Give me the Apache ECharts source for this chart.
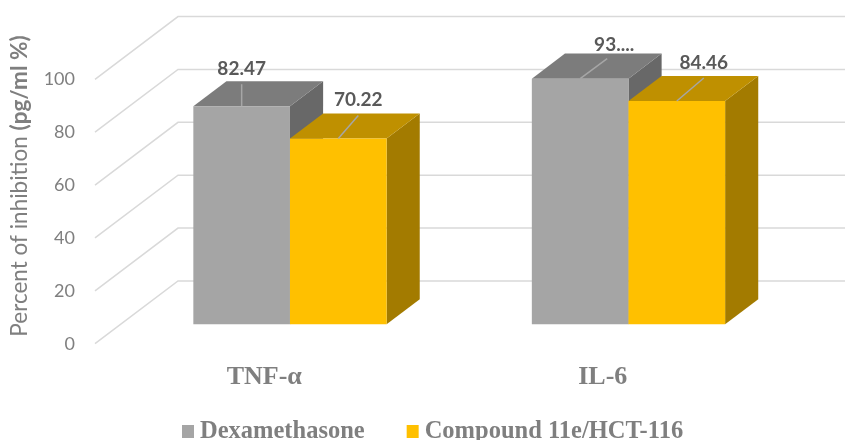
<!DOCTYPE html>
<html>
<head>
<meta charset="utf-8">
<title>Percent of inhibition</title>
<script src="https://cdn.jsdelivr.net/npm/echarts@6/dist/echarts.min.js"></script>
<style>
  html, body { margin: 0; padding: 0; background: #fff; }
  #main { width: 845px; height: 440px; }
</style>
</head>
<body>
<div id="main"></div>
<script>
var categories = ['TNF-α', 'IL-6'];
var dexamethasone = [82.47, 92.9];
var compound = [70.22, 84.46];
var dexLabels = ['82.47', '93....'];
var compoundLabels = ['70.22', '84.46'];
var tickValues = [0, 20, 40, 60, 80, 100];
var seriesNames = ['Dexamethasone', 'Compound 11e/HCT-116'];

// fake 3d: one full step back into the chart moves a point by this much
var DEPTH_X = 83;
var DEPTH_Y = -62.7;
var BAR_NEAR = 0.31;
var BAR_FAR = 0.709;
var BAR_RATIO = 0.2855;

// data label + leader line offsets from the middle of each bar's front top edge
var dexOffsets = [
  { label: [0, -37], line: [0, -22] },
  { label: [34, -34], line: [27, -20] }
];
var compoundOffsets = [
  { label: [20, -39], line: [20, -23] },
  { label: [27, -38], line: [27, -23] }
];

var dexColors = { front: '#a5a5a5', top: '#7c7c7c', side: '#686868' };
var compoundColors = { front: '#ffc000', top: '#bf9000', side: '#a37b00' };

function renderWall(params, api) {
  var v = api.value(0);
  var band = api.size([1, 0])[0];
  var p = api.coord([0, v]);
  var x0 = p[0] - band / 2;
  return {
    type: 'polyline',
    shape: {
      points: [
        [x0, p[1]],
        [x0 + DEPTH_X, p[1] + DEPTH_Y],
        [x0 + DEPTH_X + band * 2, p[1] + DEPTH_Y]
      ]
    },
    style: { stroke: '#d9d9d9', lineWidth: 1.5, fill: null }
  };
}

function makeBarRenderer(side, colors, labels, offsets) {
  return function (params, api) {
    var idx = api.value(0);
    var band = api.size([1, 0])[0];
    var w = band * BAR_RATIO;
    var top = api.coord([idx, api.value(1)]);
    var base = api.coord([idx, 0]);
    var left = top[0] + (side < 0 ? -w : 0) + DEPTH_X * BAR_NEAR;
    var right = left + w;
    var yTop = top[1] + DEPTH_Y * BAR_NEAR;
    var yBase = base[1] + DEPTH_Y * BAR_NEAR;
    var dx = DEPTH_X * (BAR_FAR - BAR_NEAR);
    var dy = DEPTH_Y * (BAR_FAR - BAR_NEAR);
    var mid = (left + right) / 2;
    var off = offsets[idx];
    return {
      type: 'group',
      children: [
        {
          type: 'polygon',
          shape: { points: [[right, yTop], [right + dx, yTop + dy], [right + dx, yBase + dy], [right, yBase]] },
          style: { fill: colors.side }
        },
        {
          type: 'polygon',
          shape: { points: [[left, yTop], [left + dx, yTop + dy], [right + dx, yTop + dy], [right, yTop]] },
          style: { fill: colors.top }
        },
        {
          type: 'rect',
          shape: { x: left, y: yTop, width: w, height: yBase - yTop },
          style: { fill: colors.front }
        },
        {
          type: 'line',
          shape: { x1: mid, y1: yTop, x2: mid + off.line[0], y2: yTop + off.line[1] },
          style: { stroke: '#a6a6a6', lineWidth: 1.5 }
        },
        {
          type: 'text',
          x: mid + off.label[0],
          y: yTop + off.label[1],
          style: {
            text: labels[idx],
            fill: '#595959',
            font: 'bold 19px Lato',
            align: 'center',
            verticalAlign: 'middle'
          }
        }
      ]
    };
  };
}

function toPairs(values) {
  return values.map(function (v, i) { return [i, v]; });
}

var chart = echarts.init(document.getElementById('main'));

chart.setOption({
  animation: false,
  backgroundColor: '#fff',
  grid: { left: 95, top: 79.3, width: 677, height: 264.4 },
  legend: {
    data: seriesNames,
    left: 177,
    top: 414,
    icon: 'rect',
    itemWidth: 12,
    itemHeight: 13,
    itemGap: 42,
    textStyle: {
      fontFamily: 'Liberation Serif',
      fontWeight: 'bold',
      fontSize: 24.5,
      color: '#7f7f7f',
      padding: [0, 0, 0, 1]
    }
  },
  xAxis: {
    type: 'category',
    data: categories,
    axisLine: { show: false },
    axisTick: { show: false },
    axisLabel: {
      margin: 21,
      fontFamily: 'Liberation Serif',
      fontWeight: 'bold',
      fontSize: 26,
      color: '#7f7f7f'
    }
  },
  yAxis: {
    type: 'value',
    min: 0,
    max: 100,
    interval: 20,
    axisLine: { show: false },
    axisTick: { show: false },
    splitLine: { show: false },
    axisLabel: {
      margin: 20,
      fontFamily: 'Lato',
      fontSize: 18,
      color: '#7f7f7f'
    }
  },
  graphic: [{
    type: 'text',
    x: 20,
    y: 186,
    rotation: Math.PI / 2,
    style: {
      text: 'Percent of inhibition {b|(pg/ml %)}',
      fill: '#7f7f7f',
      font: '22.5px Lato',
      align: 'center',
      verticalAlign: 'middle',
      rich: {
        b: { font: 'bold 22.5px Lato', fill: '#7f7f7f' }
      }
    }
  }],
  series: [
    {
      type: 'custom',
      name: 'wall',
      silent: true,
      z: 1,
      clip: false,
      data: tickValues.map(function (v) { return [v]; }),
      encode: { y: 0 },
      renderItem: renderWall
    },
    {
      type: 'custom',
      name: seriesNames[0],
      z: 2,
      clip: false,
      itemStyle: { color: dexColors.front },
      data: toPairs(dexamethasone),
      encode: { x: 0, y: 1 },
      renderItem: makeBarRenderer(-1, dexColors, dexLabels, dexOffsets)
    },
    {
      type: 'custom',
      name: seriesNames[1],
      z: 3,
      clip: false,
      itemStyle: { color: compoundColors.front },
      data: toPairs(compound),
      encode: { x: 0, y: 1 },
      renderItem: makeBarRenderer(1, compoundColors, compoundLabels, compoundOffsets)
    }
  ]
});
</script>
</body>
</html>
